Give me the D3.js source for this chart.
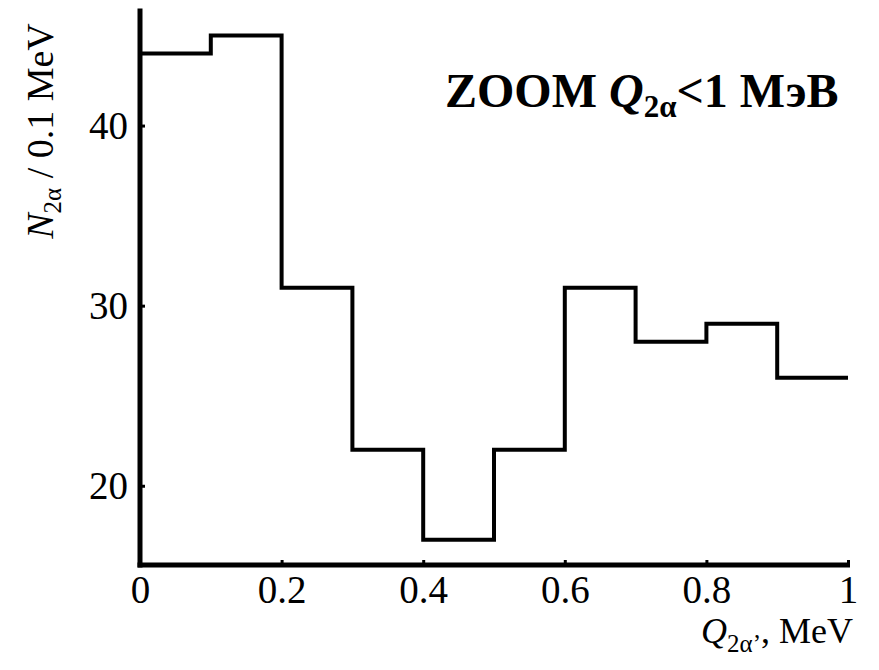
<!DOCTYPE html>
<html><head><meta charset="utf-8">
<script src="https://cdn.jsdelivr.net/npm/d3@7"></script>
<style>
html,body{margin:0;padding:0;background:#fff;}
svg{display:block;}
</style></head>
<body>
<svg id="chart" width="879" height="670"></svg>
<script>
const binEdges = [0, 0.1, 0.2, 0.3, 0.4, 0.5, 0.6, 0.7, 0.8, 0.9, 1.0];
const counts = [44, 45, 31, 22, 17, 22, 31, 28, 29, 26];
const xTicks = [0, 0.2, 0.4, 0.6, 0.8, 1];
const xTickLabels = ["0", "0.2", "0.4", "0.6", "0.8", "1"];
const yTicks = [20, 30, 40];
const yTickLabels = ["20", "30", "40"];

const FONT = '"Liberation Serif"';
const svg = d3.select("#chart");
const x = d3.scaleLinear().domain([0, 1]).range([140, 848]);
const y = d3.scaleLinear().domain([15.6, 46.5]).range([565, 8.5]);

// axes
const xAxis = d3.axisBottom(x).tickValues(xTicks)
  .tickFormat((d, i) => xTickLabels[i]).tickSizeInner(-5).tickSizeOuter(0).tickPadding(10);
const gx = svg.append("g").attr("transform", `translate(0,${y.range()[0]})`).call(xAxis)
  .attr("font-family", null).attr("font-size", null);
gx.select(".domain").attr("d", `M${x(0)-2.5},0H${x(1)+2}`).attr("stroke", "#000").attr("stroke-width", 5);
gx.selectAll(".tick line").attr("stroke", "#000").attr("stroke-width", 3);
gx.selectAll(".tick text").attr("fill", "#000")
  .style("font-family", FONT).attr("font-size", 39);

const yAxis = d3.axisLeft(y).tickValues(yTicks)
  .tickFormat((d, i) => yTickLabels[i]).tickSizeInner(-5).tickSizeOuter(0).tickPadding(12);
const gy = svg.append("g").attr("transform", `translate(${x.range()[0]},0)`).call(yAxis)
  .attr("font-family", null).attr("font-size", null);
gy.select(".domain").attr("d", `M0,${y.range()[1]}V${y.range()[0]+2.5}`).attr("stroke", "#000").attr("stroke-width", 5);
gy.selectAll(".tick line").attr("stroke", "#000").attr("stroke-width", 3);
gy.selectAll(".tick text").attr("fill", "#000")
  .style("font-family", FONT).attr("font-size", 39);

// histogram step line
const pts = counts.map((c, i) => [binEdges[i], c]);
pts.push([binEdges[binEdges.length - 1], counts[counts.length - 1]]);
const line = d3.line().x(d => x(d[0])).y(d => y(d[1])).curve(d3.curveStepAfter);
svg.append("path").datum(pts).attr("d", line)
  .attr("fill", "none").attr("stroke", "#000").attr("stroke-width", 4)
  .attr("stroke-linejoin", "miter").attr("stroke-linecap", "butt");

// title
const t = svg.append("text").attr("x", 445).attr("y", 107).attr("fill", "#000")
  .style("font-family", FONT).attr("font-size", 48).attr("font-weight", "bold");
t.append("tspan").text("ZOOM ");
t.append("tspan").attr("font-style", "italic").text("Q");
t.append("tspan").attr("font-size", 31).attr("dy", 10).text("2α");
t.append("tspan").attr("dy", -10).text("<1 МэВ");

// x label
const xl = svg.append("text").attr("x", 853).attr("y", 643).attr("text-anchor", "end").attr("fill", "#000")
  .style("font-family", FONT).attr("font-size", 36);
xl.append("tspan").attr("font-style", "italic").text("Q");
xl.append("tspan").attr("font-size", 25).attr("dy", 9).text("2α’");
xl.append("tspan").attr("dy", -9).text(", MeV");

// y label
const yl = svg.append("text").attr("transform", "translate(53,131) rotate(-90)")
  .attr("text-anchor", "middle").attr("fill", "#000")
  .style("font-family", FONT).attr("font-size", 38);
yl.append("tspan").attr("font-style", "italic").text("N");
yl.append("tspan").attr("font-size", 25).attr("dy", 8).text("2α");
yl.append("tspan").attr("dy", -8).text(" / 0.1 MeV");
</script>
</body></html>
